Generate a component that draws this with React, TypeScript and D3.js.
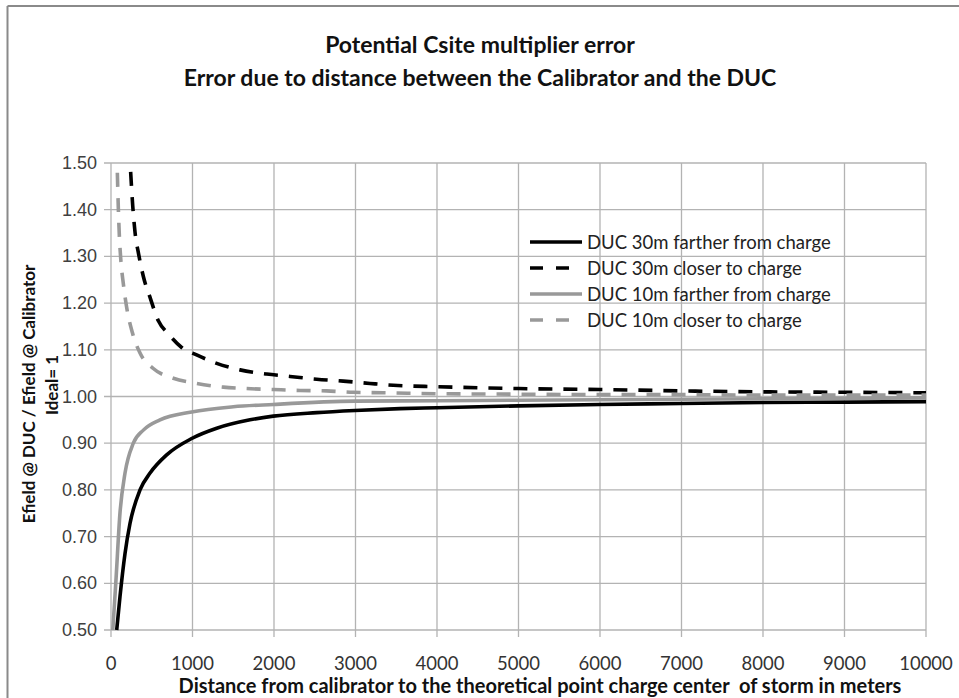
import React from "react";
import * as d3 from "d3";

const titleLines = [
  "Potential Csite multiplier error",
  "Error due to distance between the Calibrator and the DUC",
];
const xTitle = "Distance from calibrator to the theoretical point charge center  of storm in meters";
const yTitleLines = ["Efield @ DUC / Efield @ Calibrator", "Ideal= 1"];

const xTicks = [0, 1000, 2000, 3000, 4000, 5000, 6000, 7000, 8000, 9000, 10000];
const yTicks = [0.5, 0.6, 0.7, 0.8, 0.9, 1.0, 1.1, 1.2, 1.3, 1.4, 1.5];

const seriesNames = [
  "DUC 30m farther from charge",
  "DUC 30m closer to charge",
  "DUC 10m farther from charge",
  "DUC 10m closer to charge",
];

// DUC 30m farther from charge
const farther30D = [70, 110, 172, 233, 356, 479, 683, 990, 1297, 1706, 1992, 2524, 2994, 3546, 4000, 5000, 6000, 7000, 8000, 9000, 10000];
const farther30V = [0.5, 0.571, 0.664, 0.728, 0.8, 0.836, 0.875, 0.91, 0.932, 0.95, 0.958, 0.9655, 0.97, 0.974, 0.976, 0.98, 0.983, 0.985, 0.987, 0.988, 0.989];

// DUC 30m closer to charge
const closer30D = [241, 266, 294, 339, 397, 483, 581, 704, 867, 1051, 1297, 1583, 1910, 2196, 2524, 2850, 3178, 3464, 4000, 5000, 6000, 7000, 8000, 9000, 10000];
const closer30V = [1.481, 1.41, 1.353, 1.305, 1.257, 1.21, 1.162, 1.134, 1.105, 1.089, 1.071, 1.057, 1.048, 1.043, 1.037, 1.033, 1.028, 1.024, 1.021, 1.017, 1.015, 1.012, 1.01, 1.009, 1.008];

// DUC 10m farther from charge
const farther10D = [22, 61, 110, 172, 274, 397, 601, 990, 1501, 1992, 2994, 4000, 5000, 6000, 7000, 8000, 9000, 10000];
const farther10V = [0.5, 0.607, 0.75, 0.836, 0.9, 0.928, 0.95, 0.967, 0.978, 0.983, 0.99, 0.991, 0.992, 0.993, 0.994, 0.995, 0.996, 0.997];

// DUC 10m closer to charge
const closer10D = [78, 90, 102, 119, 151, 192, 262, 356, 519, 765, 1051, 1378, 1665, 1992, 2319, 2647, 2973, 3341, 4000, 5000, 6000, 7000, 8000, 9000, 10000];
const closer10V = [1.479, 1.403, 1.346, 1.296, 1.242, 1.191, 1.137, 1.093, 1.06, 1.039, 1.028, 1.02, 1.017, 1.015, 1.013, 1.012, 1.009, 1.008, 1.006, 1.005, 1.004, 1.004, 1.003, 1.003, 1.003];

const BLACK = "#000000";
const GRAY = "#999999";

export default function App() {
  const left = 111, right = 926, top = 163, bottom = 630;
  const x = d3.scaleLinear().domain([0, 10000]).range([left, right]);
  const y = d3.scaleLinear().domain([0.5, 1.5]).range([bottom, top]);

  const line = d3
    .line<[number, number]>()
    .x((p) => x(p[0]))
    .y((p) => y(p[1]))
    .curve(d3.curveMonotoneX);

  const zip = (ds: number[], vs: number[]) => ds.map((d, i) => [d, vs[i]] as [number, number]);

  const series = [
    { name: seriesNames[0], data: zip(farther30D, farther30V), color: BLACK, dash: "" },
    { name: seriesNames[1], data: zip(closer30D, closer30V), color: BLACK, dash: "14,11" },
    { name: seriesNames[2], data: zip(farther10D, farther10V), color: GRAY, dash: "" },
    { name: seriesNames[3], data: zip(closer10D, closer10V), color: GRAY, dash: "14,11" },
  ];

  const calibri = "Lato, 'Open Sans', sans-serif";
  const legendY = [242, 268, 294, 320];

  return (
    <svg
      width={959}
      height={698}
      style={{ position: "absolute", left: 0, top: 0, background: "#fff" }}
    >
      <rect x={0} y={0} width={959} height={698} fill="#fff" />
      {/* outer border (left + top) */}
      <line x1={7.5} y1={6} x2={7.5} y2={698} stroke="#8a8a8a" strokeWidth={2} />
      <line x1={7.5} y1={6} x2={959} y2={6} stroke="#8a8a8a" strokeWidth={2} />

      {/* title */}
      {titleLines.map((t, i) => (
        <text
          key={i}
          x={480}
          y={44 + i * 33}
          textAnchor="middle"
          dominantBaseline="central"
          fontFamily={calibri}
          fontWeight="bold"
          fontSize={23}
          fill="#111"
        >
          {t}
        </text>
      ))}

      {/* gridlines */}
      {yTicks.map((v) => (
        <line key={"h" + v} x1={left - 7} x2={right} y1={y(v)} y2={y(v)} stroke="#b3b3b3" strokeWidth={1.3} />
      ))}
      {xTicks.map((v) => (
        <line key={"v" + v} x1={x(v)} x2={x(v)} y1={top} y2={bottom + 7} stroke="#b3b3b3" strokeWidth={1.3} />
      ))}

      {/* y tick labels */}
      {yTicks.map((v) => (
        <text
          key={"yl" + v}
          x={97}
          y={y(v)}
          textAnchor="end"
          dominantBaseline="central"
          fontFamily="'Liberation Sans', Arial, sans-serif"
          fontSize={18}
          fill="#404040"
        >
          {v.toFixed(2)}
        </text>
      ))}

      {/* x tick labels */}
      {xTicks.map((v) => (
        <text
          key={"xl" + v}
          x={x(v)}
          y={663}
          textAnchor="middle"
          dominantBaseline="central"
          fontFamily={calibri}
          fontSize={18.5}
          fill="#333"
        >
          {v}
        </text>
      ))}

      {/* series */}
      {series.map((s) => (
        <path
          key={s.name}
          d={line(s.data) || ""}
          fill="none"
          stroke={s.color}
          strokeWidth={3.6}
          strokeDasharray={s.dash || undefined}
        />
      ))}

      {/* legend */}
      {series.map((s, i) => (
        <g key={"lg" + i}>
          <line
            x1={530}
            x2={582}
            y1={legendY[i]}
            y2={legendY[i]}
            stroke={s.color}
            strokeWidth={3.6}
            strokeDasharray={s.dash ? "13,13" : undefined}
          />
          <text
            x={587}
            y={legendY[i]}
            dominantBaseline="central"
            fontFamily={calibri}
            fontSize={18.5}
            fill="#222"
          >
            {s.name}
          </text>
        </g>
      ))}

      {/* axis titles */}
      <text
        x={540}
        y={685}
        textAnchor="middle"
        dominantBaseline="central"
        fontFamily={calibri}
        fontWeight="bold"
        fontSize={20}
        fill="#111"
        style={{ whiteSpace: "pre" }}
      >
        {xTitle}
      </text>
      <text
        transform={`translate(28,394) rotate(-90)`}
        textAnchor="middle"
        dominantBaseline="central"
        fontFamily={calibri}
        fontWeight="bold"
        fontSize={17}
        fill="#111"
      >
        {yTitleLines[0]}
      </text>
      <text
        transform={`translate(51,385) rotate(-90)`}
        textAnchor="middle"
        dominantBaseline="central"
        fontFamily={calibri}
        fontWeight="bold"
        fontSize={17}
        fill="#111"
      >
        {yTitleLines[1]}
      </text>
    </svg>
  );
}
